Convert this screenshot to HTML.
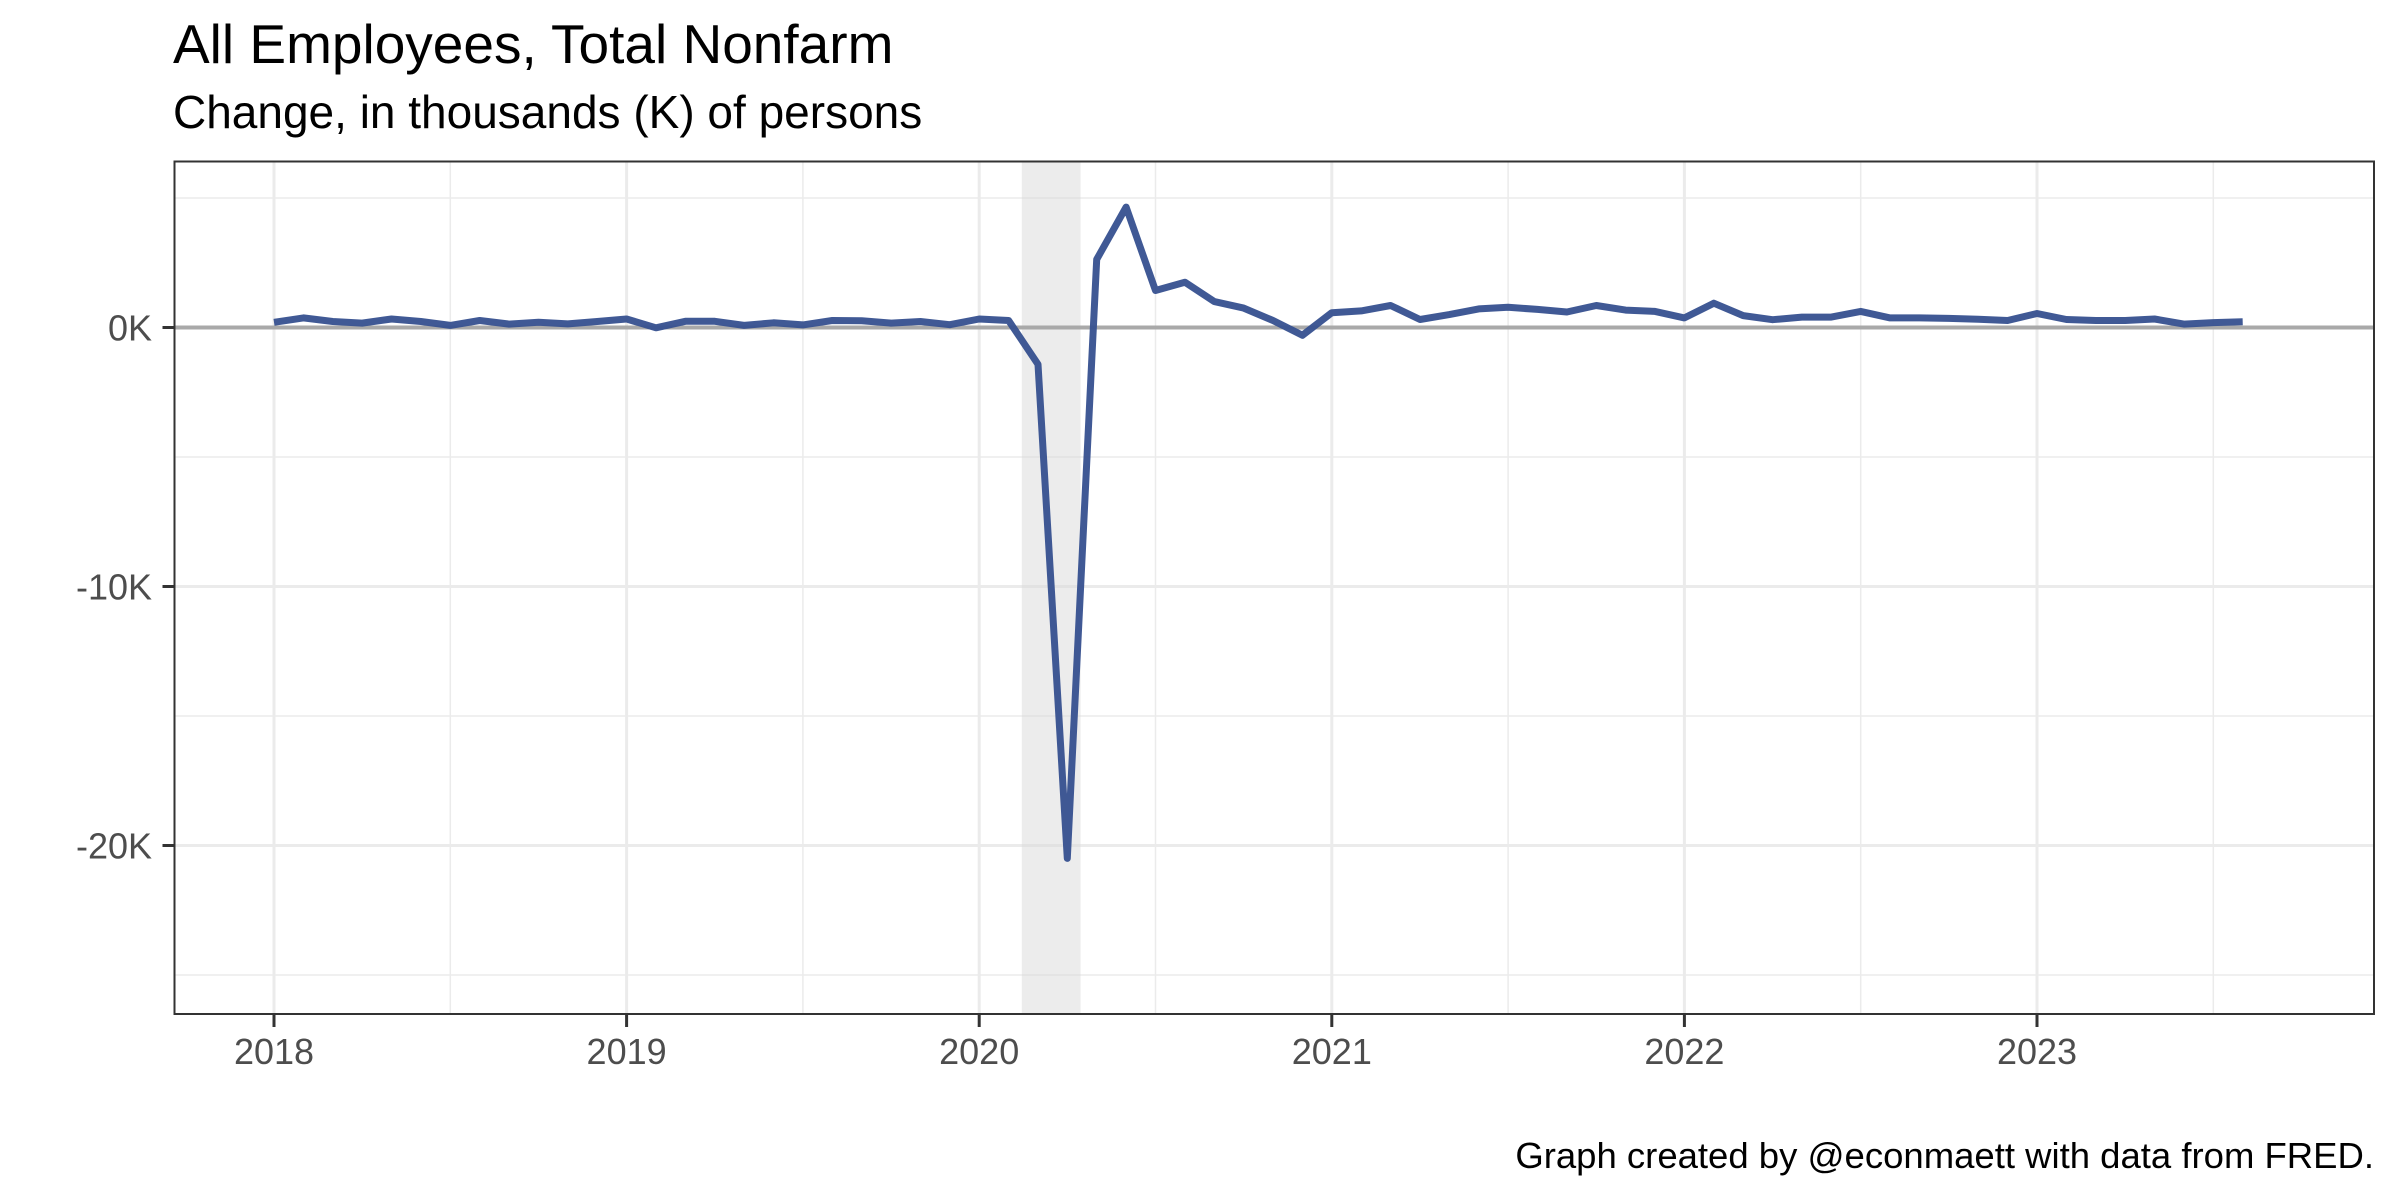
<!DOCTYPE html>
<html><head><meta charset="utf-8"><style>
html,body{margin:0;padding:0;background:#fff;}
svg{display:block;font-family:"Liberation Sans",Arial,sans-serif;}
</style></head><body>
<svg id="chart" width="2400" height="1200" viewBox="0 0 2400 1200" xmlns="http://www.w3.org/2000/svg">
<rect width="2400" height="1200" fill="#fff"/>
<text x="173" y="63" font-size="55" fill="#000">All Employees, Total Nonfarm</text>
<text x="173" y="128" font-size="46" fill="#000">Change, in thousands (K) of persons</text>
<g id="grid"></g>
<g id="shade"></g>
<g id="zero"></g>
<g id="series"></g>
<rect x="174.5" y="161.5" width="2199.5" height="852.5" fill="none" stroke="#333" stroke-width="2"/>
<g id="axes"></g>
<text x="2374" y="1168" font-size="36.5" text-anchor="end" fill="#000">Graph created by @econmaett with data from FRED.</text>
</svg>
<script>
const values = [0.2,0.37,0.23,0.17,0.33,0.23,0.08,0.27,0.13,0.2,0.14,0.23,
0.33,-0.01,0.24,0.24,0.08,0.18,0.1,0.27,0.26,0.17,0.23,0.11,
0.33,0.27,-1.42,-20.5,2.63,4.65,1.43,1.75,1.0,0.75,0.27,-0.3,
0.57,0.64,0.85,0.31,0.5,0.72,0.78,0.7,0.6,0.85,0.67,0.62,
0.37,0.94,0.46,0.3,0.4,0.4,0.62,0.37,0.37,0.35,0.32,0.27,
0.54,0.31,0.27,0.27,0.33,0.13,0.19,0.22];
const startYear = 2018;
const xTicks = [2018,2019,2020,2021,2022,2023];
const xMinor = [2018.5,2019.5,2020.5,2021.5,2022.5,2023.5];
const yTicks = [0,-10,-20];
const yTickLabels = ["0K","-10K","-20K"];
const yMinor = [5,-5,-15,-25];
const recession = [2020+1.45/12, 2020+3.45/12];

const L=174.5,R=2374,T=161.5,B=1014;
function xs(t){return 274+(t-2018)*352.6;}
function ys(v){return 327.5-v*25.9;}
const NS="http://www.w3.org/2000/svg";
function mk(tag,attrs,parent){const e=document.createElementNS(NS,tag);for(const k in attrs)e.setAttribute(k,attrs[k]);document.getElementById(parent).appendChild(e);return e;}

yMinor.forEach(v=>{const e=mk('line',{x1:L,x2:R,y1:ys(v),y2:ys(v),stroke:'#ebebeb','stroke-width':1.5},'grid');

});
yTicks.forEach(v=>{const e=mk('line',{x1:L,x2:R,y1:ys(v),y2:ys(v),stroke:'#ebebeb','stroke-width':3},'grid');

});
xMinor.forEach(t=>{const e=mk('line',{x1:xs(t),x2:xs(t),y1:T,y2:B,stroke:'#ebebeb','stroke-width':1.5},'grid');

});
xTicks.forEach(t=>{const e=mk('line',{x1:xs(t),x2:xs(t),y1:T,y2:B,stroke:'#ebebeb','stroke-width':3},'grid');

});

const sh=mk('rect',{x:xs(recession[0]),y:T,width:xs(recession[1])-xs(recession[0]),height:B-T,fill:'#d9d9d9','fill-opacity':0.5},'shade');



const z=mk('line',{x1:L,x2:R,y1:ys(0),y2:ys(0),stroke:'#a9a9a9','stroke-width':4},'zero');



const pts=values.map((v,i)=>xs(startYear+i/12).toFixed(1)+','+ys(v).toFixed(1)).join(' ');
const pl=mk('polyline',{points:pts,fill:'none',stroke:'#36508f','stroke-width':7,'stroke-linejoin':'round','stroke-opacity':0.95},'series');



xTicks.forEach(t=>{
const tk=mk('line',{x1:xs(t),x2:xs(t),y1:B,y2:B+13,stroke:'#333','stroke-width':3},'axes');


const tx=mk('text',{x:xs(t),y:1064,'font-size':36,'text-anchor':'middle',fill:'#4d4d4d'},'axes');
tx.textContent=t;

});
yTicks.forEach((v,i)=>{
const tk=mk('line',{x1:L-12,x2:L,y1:ys(v),y2:ys(v),stroke:'#333','stroke-width':3},'axes');


const tx=mk('text',{x:152,y:ys(v)+13,'font-size':36,'text-anchor':'end',fill:'#4d4d4d'},'axes');
tx.textContent=yTickLabels[i];

});
</script>
</body></html>
